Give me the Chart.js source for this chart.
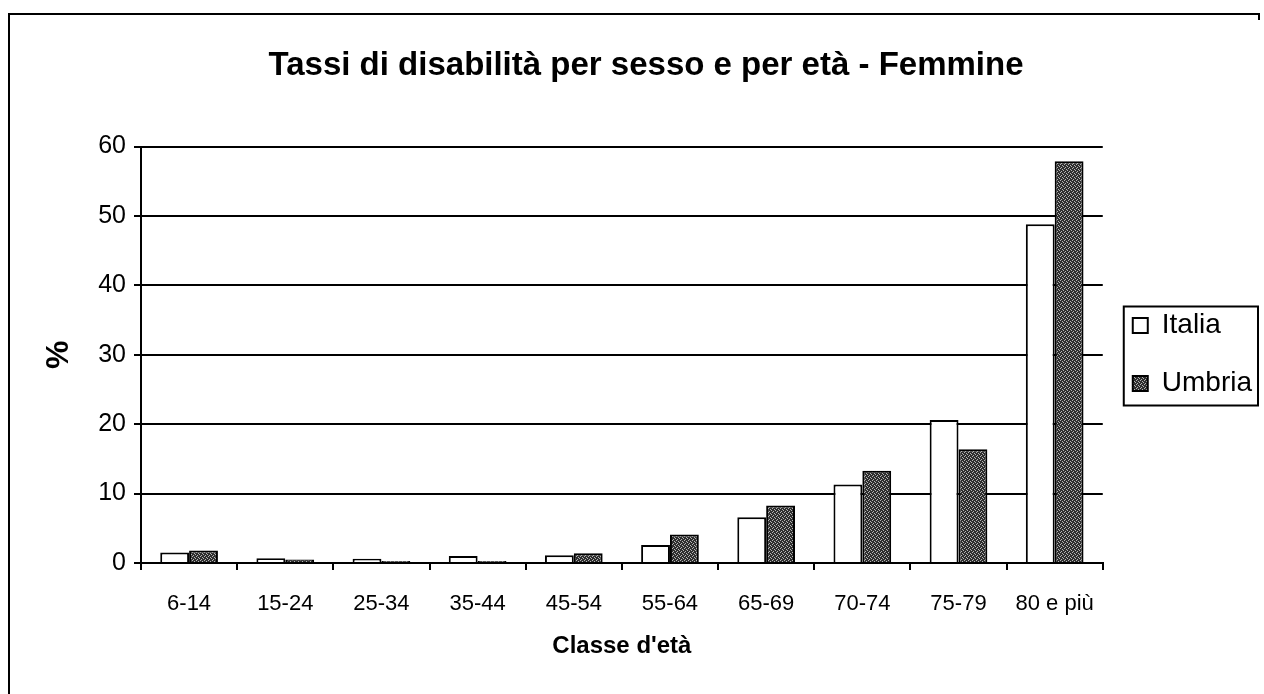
<!DOCTYPE html>
<html lang="it">
<head>
<meta charset="utf-8">
<title>Tassi di disabilità per sesso e per età - Femmine</title>
<script src="https://cdn.jsdelivr.net/npm/chart.js@4/dist/chart.umd.min.js"></script>
<style>
    html, body { margin: 0; padding: 0; background: #fff; }
    #wrap { position: relative; width: 1264px; height: 694px; }
</style>
</head>
<body>
<div id="wrap"><canvas id="chart" width="1264" height="694"></canvas></div>
<script>
'use strict';

const titleText = 'Tassi di disabilità per sesso e per età - Femmine';
const ageClasses = ['6-14', '15-24', '25-34', '35-44', '45-54', '55-64', '65-69', '70-74', '75-79', '80 e più'];
const italiaValues = [1.5, 0.7, 0.6, 1.0, 1.1, 2.6, 6.6, 11.3, 20.6, 48.8];
const umbriaValues = [1.8, 0.5, 0.3, 0.3, 1.4, 4.1, 8.3, 13.3, 16.4, 57.9];
const yTicks = [0, 10, 20, 30, 40, 50, 60];

const FONT = '"Liberation Sans", Arial, sans-serif';

// speckled dark fill used for the Umbria bars
function makeSpeckle() {
    const c = document.createElement('canvas');
    c.width = 4;
    c.height = 4;
    const g = c.getContext('2d');
    g.fillStyle = '#2e2e2e';
    g.fillRect(0, 0, 4, 4);
    g.fillStyle = '#b4b4b4';
    [[0, 0], [2, 1], [1, 3], [3, 2]].forEach(([x, y]) => g.fillRect(x, y, 1, 1));
    return g.createPattern(c, 'repeat');
}

const framePlugin = {
    id: 'frame',
    beforeDraw(chart) {
        const ctx = chart.ctx;
        ctx.save();
        ctx.fillStyle = '#fff';
        ctx.fillRect(0, 0, chart.width, chart.height);
        ctx.strokeStyle = '#000';
        ctx.lineWidth = 2;
        ctx.beginPath();
        ctx.moveTo(9, chart.height);
        ctx.lineTo(9, 14);
        ctx.lineTo(1259, 14);
        ctx.lineTo(1259, 20);
        ctx.stroke();
        ctx.restore();
    },
    afterDraw(chart) {
        // box round the legend entries
        const boxes = chart.legend && chart.legend.legendHitBoxes;
        if (!boxes || !boxes.length) return;
        const left = Math.min(...boxes.map(b => b.left)) - 9;
        const top = Math.min(...boxes.map(b => b.top)) - 5;
        const right = Math.max(...boxes.map(b => b.left + b.width)) + 6;
        const bottom = Math.max(...boxes.map(b => b.top + b.height)) + 8;
        const ctx = chart.ctx;
        ctx.save();
        ctx.strokeStyle = '#000';
        ctx.lineWidth = 2;
        ctx.strokeRect(left, top, right - left, bottom - top);
        ctx.restore();
    }
};

const ctx = document.getElementById('chart').getContext('2d');

new Chart(ctx, {
    type: 'bar',
    data: {
        labels: ageClasses,
        datasets: [
            {
                label: 'Italia',
                data: italiaValues,
                backgroundColor: '#fff',
                borderColor: '#000',
                borderWidth: 2,
                categoryPercentage: 0.6,
                barPercentage: 1.0
            },
            {
                label: 'Umbria',
                data: umbriaValues,
                backgroundColor: makeSpeckle(),
                borderColor: '#000',
                borderWidth: 2,
                categoryPercentage: 0.6,
                barPercentage: 1.0
            }
        ]
    },
    options: {
        responsive: false,
        animation: false,
        events: [],
        layout: { padding: { left: 30, right: 2, top: 0, bottom: 33 } },
        plugins: {
            title: {
                display: true,
                text: titleText,
                color: '#000',
                font: { family: FONT, size: 33, weight: 'bold' },
                padding: { top: 46, bottom: 61 }
            },
            legend: {
                position: 'right',
                align: 'center',
                title: {
                    display: true,
                    text: '',
                    font: { family: FONT, size: 10 },
                    padding: 18
                },
                labels: {
                    color: '#000',
                    font: { family: FONT, size: 28 },
                    boxWidth: 15,
                    boxHeight: 15,
                    padding: 30
                }
            },
            tooltip: { enabled: false }
        },
        scales: {
            x: {
                afterFit(scale) { scale.height = 98; },
                grid: {
                    drawOnChartArea: false,
                    drawTicks: true,
                    tickLength: 7,
                    color: '#000',
                    lineWidth: 2
                },
                border: { display: true, color: '#000', width: 2 },
                ticks: {
                    color: '#000',
                    font: { family: FONT, size: 22 },
                    padding: 21,
                    maxRotation: 0,
                    autoSkip: false
                },
                title: {
                    display: true,
                    text: "Classe d'età",
                    color: '#000',
                    font: { family: FONT, size: 24, weight: 'bold' },
                    padding: { top: 0, bottom: 0 }
                }
            },
            y: {
                min: 0,
                max: 60,
                afterFit(scale) { scale.width = 111; },
                afterBuildTicks(scale) { scale.ticks = yTicks.map(v => ({ value: v })); },
                grid: {
                    drawTicks: true,
                    tickLength: 7,
                    color: '#000',
                    lineWidth: 2
                },
                border: { display: true, color: '#000', width: 2 },
                ticks: {
                    color: '#000',
                    font: { family: FONT, size: 25 },
                    padding: 8
                },
                title: {
                    display: true,
                    text: '%',
                    color: '#000',
                    font: { family: FONT, size: 32, weight: 'bold' },
                    padding: { top: 10, bottom: 0 }
                }
            }
        }
    },
    plugins: [framePlugin]
});
</script>
</body>
</html>
